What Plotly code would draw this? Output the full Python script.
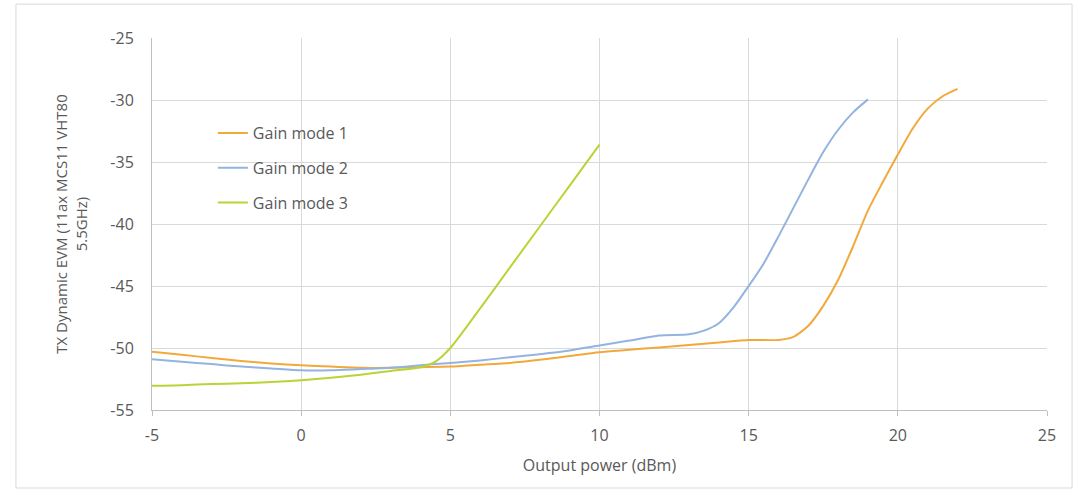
import plotly.graph_objects as go

# Gain mode 1 (orange)
x_gm1 = [-5, -4, -3, -2, -1, 0, 1, 2, 3, 4, 5, 6, 7, 8, 9, 10, 11, 12, 13, 14, 15, 16, 16.5, 17, 17.5, 18, 18.5, 19, 19.5, 20, 20.5, 21, 21.5, 22]
y_gm1 = [-50.3, -50.55, -50.8, -51.05, -51.25, -51.4, -51.5, -51.6, -51.6, -51.55, -51.5, -51.35, -51.2, -50.95, -50.65, -50.35, -50.15, -49.95, -49.75, -49.55, -49.35, -49.35, -49.1, -48.2, -46.6, -44.5, -41.8, -38.9, -36.6, -34.4, -32.3, -30.7, -29.7, -29.1]

# Gain mode 2 (blue)
x_gm2 = [-5, -4, -3, -2, -1, 0, 1, 2, 3, 4, 5, 6, 7, 8, 9, 10, 11, 12, 13, 13.5, 14, 14.5, 15, 15.5, 16, 16.5, 17, 17.5, 18, 18.5, 19]
y_gm2 = [-50.9, -51.1, -51.3, -51.5, -51.65, -51.8, -51.8, -51.7, -51.6, -51.4, -51.2, -51.0, -50.75, -50.5, -50.2, -49.8, -49.4, -49.0, -48.9, -48.6, -48.0, -46.7, -45.0, -43.2, -41.0, -38.7, -36.4, -34.2, -32.4, -31.0, -29.95]

# Gain mode 3 (green)
x_gm3 = [-5, -4, -3, -2, -1, 0, 1, 2, 3, 4, 4.5, 5, 6, 7, 8, 9, 10]
y_gm3 = [-53.05, -53.0, -52.9, -52.85, -52.75, -52.6, -52.4, -52.15, -51.85, -51.55, -51.1, -50.0, -46.8, -43.5, -40.2, -36.9, -33.6]

series_names = ["Gain mode 1", "Gain mode 2", "Gain mode 3"]
series_colors = ["#F2A93B", "#92B4DE", "#B8D437"]

x_ticks = [-5, 0, 5, 10, 15, 20, 25]
y_ticks = [-25, -30, -35, -40, -45, -50, -55]

FONT = "Open Sans"
GREY = "#595959"
GRID = "#D9D9D9"
FS = 16

fig = go.Figure()
for i, (xs, ys) in enumerate([(x_gm1, y_gm1), (x_gm2, y_gm2), (x_gm3, y_gm3)]):
    fig.add_trace(go.Scatter(
        x=xs, y=ys, mode="lines", name=series_names[i],
        legendgroup=f"g{i}",
        line=dict(color=series_colors[i], width=2, shape="spline", smoothing=0.7),
    ))

fig.update_layout(
    width=1081, height=490,
    margin=dict(l=152, r=34, t=38, b=80),
    paper_bgcolor="white", plot_bgcolor="white",
    font=dict(family=FONT, size=FS, color=GREY),
    showlegend=True,
    legend=dict(
        x=0.068, y=0.79, xanchor="left", yanchor="top",
        bgcolor="rgba(0,0,0,0)", font=dict(size=FS, color=GREY),
        tracegroupgap=11,
    ),
    xaxis=dict(
        range=[-5, 25], tickvals=x_ticks, ticktext=[str(v) for v in x_ticks],
        showgrid=True, gridcolor=GRID,
        zeroline=False, showline=True, linecolor="#BFBFBF",
        ticks="outside", ticklen=5, tickcolor="#BFBFBF", ticklabelstandoff=6,
        tickfont=dict(size=FS, color=GREY),
        title=dict(text="Output power (dBm)", font=dict(size=FS, color=GREY), standoff=14),
    ),
    yaxis=dict(
        range=[-55, -25], tickvals=y_ticks, ticktext=[str(v) for v in y_ticks],
        showgrid=True, gridcolor=GRID,
        zeroline=False, showline=True, linecolor="#BFBFBF",
        ticks="", ticklabelstandoff=14,
        tickfont=dict(size=FS, color=GREY),
        title=dict(text="TX Dynamic EVM (11ax MCS11 VHT80<br>5.5GHz)", font=dict(size=15, color=GREY), standoff=19),
    ),
    shapes=[dict(
        type="rect", xref="paper", yref="paper",
        x0=-0.152, x1=1.028, y0=-0.2097, y1=1.091,
        line=dict(color=GRID, width=1), fillcolor="rgba(0,0,0,0)", layer="below",
    )],
)

fig.write_html("out.html")
